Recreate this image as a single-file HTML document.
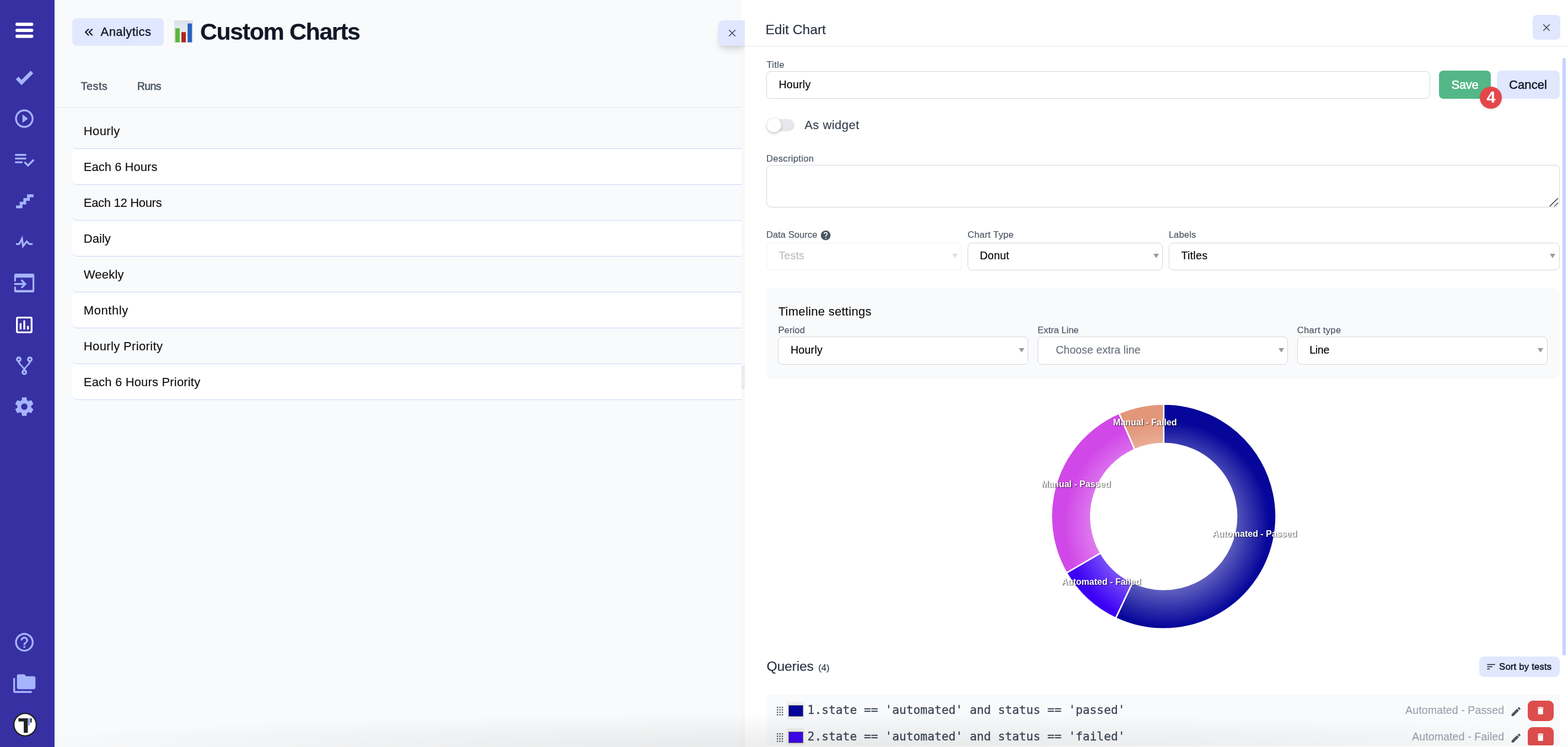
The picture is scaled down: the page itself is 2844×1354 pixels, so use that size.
<!DOCTYPE html>
<html lang="en"><head><meta charset="utf-8"><title>Custom Charts - Analytics</title>
<style>
*{box-sizing:border-box;margin:0;padding:0}
html,body{width:2844px;height:1354px;overflow:hidden;background:#f9fafb}
body{position:relative;font-family:'Liberation Sans',sans-serif;color:#111827}
.abs,.t,.ic,nav,main,aside,header,section,form,ul,li,a,button,label,h1,h2,h3,figure{position:absolute}
.t{white-space:nowrap;display:block;-webkit-text-stroke:.18px currentColor}
h1,h2,h3{font-weight:400;font-size:inherit}
button{border:0;background:none;font:inherit;color:inherit;text-align:left}
a{text-decoration:none;color:inherit}
ul{list-style:none}
.ic{display:block;overflow:visible}
nav{background:#3730a3}
main{background:#f9fafb;overflow:hidden}
.tabs{border-bottom:1px solid #e5e7eb}
.row{border-bottom:1px solid #c7d2fe;border-radius:9px 0 0 9px}
.row.w{background:#fff}
aside{background:#fff}
.hd{border-bottom:1px solid #e5e7eb}
.fld{position:absolute;border:1px solid #d1d5db;border-radius:8px;background:#fff}
.fld.dis{border-color:#f0f0f1}
.btn{border-radius:8px;background:#e0e7ff}
.save{border-radius:8px;background:#53b787}
.del{border-radius:9px;background:#dd4d4c}
.card{background:#f9fafb}
.arr{position:absolute;width:0;height:0;border-left:5.2px solid transparent;border-right:5.2px solid transparent;border-top:8.6px solid #999}
.dl{font-weight:700;-webkit-text-stroke:0;text-shadow:1.3px 1.3px 1.6px rgba(0,0,0,.7)}
</style></head><body>
<nav aria-label="Main" style="left:0.00px;top:0.00px;width:99.00px;height:1354.00px;">
<svg class="ic" role="img" aria-label="Menu" style="left:27.80px;top:40.70px;width:32.5px;height:27.8px" viewBox="0 0 32.5 27.8"><rect x="0" y="0" width="32.5" height="6.1" rx="3" fill="#fff"/><rect x="0" y="10.9" width="32.5" height="6" rx="3" fill="#fff"/><rect x="0" y="21.8" width="32.5" height="6" rx="3" fill="#fff"/></svg>
<a aria-label="Tests" style="left:20.00px;top:116.20px;width:48.00px;height:48.00px;">
<svg class="ic" style="left:3.90px;top:3.90px;width:40.20px;height:40.20px;" viewBox="0 0 24 24"><path fill="#a5b4fc" d="M9,20.42L2.79,14.21L5.62,11.38L9,14.77L18.88,4.88L21.71,7.71L9,20.42Z"/></svg>
</a>
<a aria-label="Runs" style="left:20.00px;top:190.87px;width:48.00px;height:48.00px;">
<svg class="ic" style="left:3.90px;top:3.90px;width:40.20px;height:40.20px;" viewBox="0 0 24 24"><path fill="#a5b4fc" d="M12,20C7.59,20 4,16.41 4,12C4,7.59 7.59,4 12,4C16.41,4 20,7.59 20,12C20,16.41 16.41,20 12,20M12,2A10,10 0 0,0 2,12A10,10 0 0,0 12,22A10,10 0 0,0 22,12A10,10 0 0,0 12,2M10,16.5L16,12L10,7.5V16.5Z"/></svg>
</a>
<a aria-label="Plans" style="left:20.00px;top:265.54px;width:48.00px;height:48.00px;">
<svg class="ic" style="left:3.90px;top:3.90px;width:40.20px;height:40.20px;" viewBox="0 0 24 24"><path fill="#a5b4fc" d="M14,10H2V12H14V10M14,6H2V8H14V6M2,16H10V14H2V16M21.5,11.5L23,13L16,20L11.5,15.5L13,14L16,17L21.5,11.5Z"/></svg>
</a>
<a aria-label="Steps" style="left:20.00px;top:340.21px;width:48.00px;height:48.00px;">
<svg class="ic" style="left:3.90px;top:3.90px;width:40.20px;height:40.20px;" viewBox="0 0 24 24"><path fill="#a5b4fc" d="M15,5V9H11V13H7V17H3V20H10V16H14V12H18V8H22V5H15Z"/></svg>
</a>
<a aria-label="Pulse" style="left:20.00px;top:414.88px;width:48.00px;height:48.00px;">
<svg class="ic" style="left:3.90px;top:3.90px;width:40.20px;height:40.20px;" viewBox="0 0 24 24"><path fill="#a5b4fc" d="M3,13H5.79L10.1,4.79L11.28,13.75L14.5,9.66L17.83,13H21V15H17L14.67,12.67L9.92,18.73L8.94,11.31L7,15H3V13Z"/></svg>
</a>
<a aria-label="Imports" style="left:20.00px;top:489.55px;width:48.00px;height:48.00px;">
<svg class="ic" style="left:4.00px;top:3.45px;width:40px;height:40px" viewBox="0 0 40 40"><path fill="#a5b4fc" d="M5.05,2.95H34.9a3.3,3.3 0 0 1 3.3,3.3V33.67a3.3,3.3 0 0 1 -3.3,3.3H5.05a3.3,3.3 0 0 1 -3.3,-3.3V26.7H4.95V32.8H35V10.25H4.95V17.1H1.75V6.25a3.3,3.3 0 0 1 3.3,-3.3ZM1.75,20H17.8L13.5,15.75L15.9,13.3L24.3,21.7L15.9,30.1L13.5,27.65L17.8,23.4H1.75Z"/></svg>
</a>
<a aria-label="Analytics" style="left:20.00px;top:564.22px;width:48.00px;height:48.00px;">
<svg class="ic" style="left:4.00px;top:4.40px;width:40.00px;height:40.00px;" viewBox="0 0 24 24"><path fill="#fff" d="M9 17H7V10H9V17M13 17H11V7H13V17M17 17H15V13H17V17M19 19H5V5H19V19.1M19 3H5C3.9 3 3 3.9 3 5V19C3 20.1 3.9 21 5 21H19C20.1 21 21 20.1 21 19V5C21 3.9 20.1 3 19 3Z"/></svg>
</a>
<a aria-label="Branches" style="left:20.00px;top:638.89px;width:48.00px;height:48.00px;">
<svg class="ic" style="left:3.90px;top:3.90px;width:40.20px;height:40.20px;" viewBox="0 0 24 24"><path fill="#a5b4fc" d="M6,2A3,3 0 0,1 9,5C9,6.28 8.19,7.38 7.06,7.81C7.15,8.27 7.39,8.83 8,9.63C9,10.92 11,12.83 12,14.17C13,12.83 15,10.92 16,9.63C16.61,8.83 16.85,8.27 16.94,7.81C15.81,7.38 15,6.28 15,5A3,3 0 0,1 18,2A3,3 0 0,1 21,5C21,6.32 20.14,7.45 18.95,7.85C18.87,8.37 18.64,9 18,9.83C17,11.17 15,13.08 14,14.38C13.39,15.17 13.15,15.73 13.06,16.19C14.19,16.62 15,17.72 15,19A3,3 0 0,1 12,22A3,3 0 0,1 9,19C9,17.72 9.81,16.62 10.94,16.19C10.85,15.73 10.61,15.17 10,14.38C9,13.08 7,11.17 6,9.83C5.36,9 5.13,8.37 5.05,7.85C3.86,7.45 3,6.32 3,5A3,3 0 0,1 6,2M6,4A1,1 0 0,0 5,5A1,1 0 0,0 6,6A1,1 0 0,0 7,5A1,1 0 0,0 6,4M18,4A1,1 0 0,0 17,5A1,1 0 0,0 18,6A1,1 0 0,0 19,5A1,1 0 0,0 18,4M12,18A1,1 0 0,0 11,19A1,1 0 0,0 12,20A1,1 0 0,0 13,19A1,1 0 0,0 12,18Z"/></svg>
</a>
<a aria-label="Settings" style="left:20.00px;top:713.56px;width:48.00px;height:48.00px;">
<svg class="ic" style="left:3.90px;top:3.90px;width:40.20px;height:40.20px;" viewBox="0 0 24 24"><path fill="#a5b4fc" d="M12,15.5A3.5,3.5 0 0,1 8.5,12A3.5,3.5 0 0,1 12,8.5A3.5,3.5 0 0,1 15.5,12A3.5,3.5 0 0,1 12,15.5M19.43,12.97C19.47,12.65 19.5,12.33 19.5,12C19.5,11.67 19.47,11.34 19.43,11L21.54,9.37C21.73,9.22 21.78,8.95 21.66,8.73L19.66,5.27C19.54,5.05 19.27,4.96 19.05,5.05L16.56,6.05C16.04,5.66 15.5,5.32 14.87,5.07L14.5,2.42C14.46,2.18 14.25,2 14,2H10C9.75,2 9.54,2.18 9.5,2.42L9.13,5.07C8.5,5.32 7.96,5.66 7.44,6.05L4.95,5.05C4.73,4.96 4.46,5.05 4.34,5.27L2.34,8.73C2.21,8.95 2.27,9.22 2.46,9.37L4.57,11C4.53,11.34 4.5,11.67 4.5,12C4.5,12.33 4.53,12.65 4.57,12.97L2.46,14.63C2.27,14.78 2.21,15.05 2.34,15.27L4.34,18.73C4.46,18.95 4.73,19.03 4.95,18.95L7.44,17.94C7.96,18.34 8.5,18.68 9.13,18.93L9.5,21.58C9.54,21.82 9.75,22 10,22H14C14.25,22 14.46,21.82 14.5,21.58L14.87,18.93C15.5,18.67 16.04,18.34 16.56,17.94L19.05,18.95C19.27,19.03 19.54,18.95 19.66,18.73L21.66,15.27C21.78,15.05 21.73,14.78 21.54,14.63L19.43,12.97Z"/></svg>
</a>
<a aria-label="Help" style="left:20.00px;top:1140.00px;width:48.00px;height:48.00px;">
<svg class="ic" style="left:3.70px;top:3.90px;width:40.40px;height:40.40px;" viewBox="0 0 24 24"><path fill="#a5b4fc" d="M11,18H13V16H11V18M12,2A10,10 0 0,0 2,12A10,10 0 0,0 12,22A10,10 0 0,0 22,12A10,10 0 0,0 12,2M12,20C7.59,20 4,16.41 4,12C4,7.59 7.59,4 12,4C16.41,4 20,7.59 20,12C20,16.41 16.41,20 12,20M12,6A4,4 0 0,0 8,10H10A2,2 0 0,1 12,8A2,2 0 0,1 14,10C14,12 11,11.75 11,15H13C13,12.75 16,12.5 16,10A4,4 0 0,0 12,6Z"/></svg>
</a>
<a aria-label="Projects" style="left:20.00px;top:1215.00px;width:48.00px;height:48.00px;">
<svg class="ic" style="left:3.90px;top:3.85px;width:40.30px;height:40.30px;" viewBox="0 0 24 24"><path fill="#a5b4fc" d="M22,4H14L12,2H6A2,2 0 0,0 4,4V16A2,2 0 0,0 6,18H22A2,2 0 0,0 24,16V6A2,2 0 0,0 22,4M2,6H0V11H0V20A2,2 0 0,0 2,22H20V20H2V6Z"/></svg>
</a>
<svg class="ic" role="img" aria-label="Logo" style="left:22.00px;top:1290.00px;width:47px;height:47px" viewBox="22 1290 47 47"><circle cx="45.5" cy="1313.5" r="20.4" fill="#fff" stroke="#1f1f1f" stroke-width="2.4"/><path fill="#222" d="M33.4 1301.9H50.5V1328.3H43.1V1307.8H33.4Z"/><rect x="51.3" y="1301.9" width="2.5" height="12.8" fill="#6b8cff"/><rect x="54.8" y="1301.9" width="2.7" height="7.7" fill="#222"/></svg>
</nav>
<main style="left:99.00px;top:0.00px;width:1246.00px;height:1354.00px;">
<header style="left:0.00px;top:0.00px;width:1246.00px;height:110.00px;">
<a class="btn" style="left:32.00px;top:33.00px;width:166.00px;height:50.00px;">
<svg class="ic" style="left:17.20px;top:11.90px;width:26.67px;height:26.67px;" viewBox="0 0 24 24"><path fill="#111827" d="M18.41,7.41L17,6L11,12L17,18L18.41,16.59L13.83,12L18.41,7.41M12.41,7.41L11,6L5,12L11,18L12.41,16.59L7.83,12L12.41,7.41Z"/></svg>
<span class="t" style="left:51.60px;top:13.90px;font-size:22.0px;line-height:22.0px;color:#111827;letter-spacing:0.412px;-webkit-text-stroke:.4px currentColor;">Analytics</span>
</a>
<svg class="ic" role="img" aria-label="bar chart" style="left:217.00px;top:37.00px;width:34px;height:40px" viewBox="0 0 34 40"><defs><linearGradient id="eg" x1="0" y1="0" x2="0" y2="1"><stop offset="0" stop-color="#dbe2ec"/><stop offset="0.55" stop-color="#e6e9ee"/><stop offset="1" stop-color="#eef0f3"/></linearGradient></defs><rect x="0.35" y="0.85" width="33.3" height="38.8" fill="url(#eg)" stroke="#cdd2da" stroke-width="0.7"/><rect x="2" y="14.3" width="8" height="25.4" fill="#58b93b"/><rect x="13.1" y="21.2" width="7.9" height="18.5" fill="#b0251a"/><rect x="24.3" y="5.6" width="7.8" height="34.1" fill="#2860c0"/></svg>
<h1 class="t" style="left:263.90px;top:36.20px;font-size:43.0px;line-height:43.0px;color:#111827;letter-spacing:-1.425px;font-weight:700;">Custom Charts</h1>
</header>
<div class="abs tabs" role="tablist" style="left:0.00px;top:110.00px;width:1246.00px;height:85.00px;">
<a class="t" style="left:47.70px;top:37.20px;font-size:19.6px;line-height:19.6px;color:#4b5563;letter-spacing:0.600px;-webkit-text-stroke:.55px currentColor;">Tests</a>
<a class="t" style="left:149.70px;top:37.20px;font-size:19.6px;line-height:19.6px;color:#4b5563;letter-spacing:-0.600px;-webkit-text-stroke:.55px currentColor;">Runs</a>
</div>
<ul style="left:0.00px;top:0.00px;width:1246.00px;height:800.00px;">
<li class="row" style="left:32.00px;top:205.00px;width:1214.00px;height:65.00px;">
<span class="t" style="left:20.80px;top:21.90px;font-size:22.0px;line-height:22.0px;color:#111111;letter-spacing:0.380px;">Hourly</span>
</li>
<li class="row w" style="left:32.00px;top:270.00px;width:1214.00px;height:65.00px;">
<span class="t" style="left:20.80px;top:21.90px;font-size:22.0px;line-height:22.0px;color:#111111;letter-spacing:0.027px;">Each 6 Hours</span>
</li>
<li class="row" style="left:32.00px;top:335.00px;width:1214.00px;height:65.00px;">
<span class="t" style="left:20.80px;top:21.90px;font-size:22.0px;line-height:22.0px;color:#111111;letter-spacing:-0.308px;">Each 12 Hours</span>
</li>
<li class="row w" style="left:32.00px;top:400.00px;width:1214.00px;height:65.00px;">
<span class="t" style="left:20.80px;top:21.90px;font-size:22.0px;line-height:22.0px;color:#111111;letter-spacing:0.025px;">Daily</span>
</li>
<li class="row" style="left:32.00px;top:465.00px;width:1214.00px;height:65.00px;">
<span class="t" style="left:20.80px;top:21.90px;font-size:22.0px;line-height:22.0px;color:#111111;letter-spacing:0.200px;">Weekly</span>
</li>
<li class="row w" style="left:32.00px;top:530.00px;width:1214.00px;height:65.00px;">
<span class="t" style="left:20.80px;top:21.90px;font-size:22.0px;line-height:22.0px;color:#111111;letter-spacing:0.583px;">Monthly</span>
</li>
<li class="row" style="left:32.00px;top:595.00px;width:1214.00px;height:65.00px;">
<span class="t" style="left:20.80px;top:21.90px;font-size:22.0px;line-height:22.0px;color:#111111;letter-spacing:0.364px;">Hourly Priority</span>
</li>
<li class="row w" style="left:32.00px;top:660.00px;width:1214.00px;height:65.00px;">
<span class="t" style="left:20.80px;top:21.90px;font-size:22.0px;line-height:22.0px;color:#111111;letter-spacing:0.175px;">Each 6 Hours Priority</span>
</li>
</ul>
</main>
<div class="abs" style="left:99.00px;top:0.00px;width:1.00px;height:1354.00px;background:#fff"></div>
<div class="abs" style="left:1345.00px;top:0.00px;width:6.00px;height:84.00px;background:#fff"></div>
<div class="abs" style="left:1345.00px;top:84.00px;width:6.00px;height:1270.00px;background:#f8f8f9">
<div class="abs" style="left:0.00px;top:579.00px;width:6.00px;height:42.00px;border-radius:3px;background:#e5e7eb">
<i class="abs" style="left:1.30px;top:5.00px;width:1.00px;height:32.00px;background:#f6f6f8"></i>
<i class="abs" style="left:3.90px;top:5.00px;width:1.00px;height:32.00px;background:#f6f6f8"></i>
</div>
</div>
<aside style="left:1351.00px;top:0.00px;width:1493.00px;height:1354.00px;">
<header class="hd" style="left:-6.00px;top:0.00px;width:1499.00px;height:84.30px;">
<button aria-label="Close" style="left:-41.70px;top:37.20px;width:47.70px;height:45.80px;background:#e0e7ff;border-radius:9px 0 0 9px;box-shadow:0 9px 13px -3px rgba(0,0,0,.14),0 3px 6px -2px rgba(0,0,0,.08);clip-path:inset(-30px 0 -30px -30px)">
<svg class="ic" style="left:16.40px;top:14.75px;width:16px;height:16px" viewBox="-8 -8 16 16"><path d="M-5.75 -5.75L5.75 5.75M5.75 -5.75L-5.75 5.75" stroke="#3f4957" stroke-width="1.75" fill="none"/></svg>
</button>
<h2 class="t" style="left:43.40px;top:42.00px;font-size:24.7px;line-height:24.7px;color:#2a3342;letter-spacing:-0.022px;">Edit Chart</h2>
<button class="btn" aria-label="Close panel" style="left:1435.00px;top:27.00px;width:50.00px;height:45.00px;">
<svg class="ic" style="left:17.00px;top:14.90px;width:16px;height:16px" viewBox="-8 -8 16 16"><path d="M-5.75 -5.75L5.75 5.75M5.75 -5.75L-5.75 5.75" stroke="#3f4957" stroke-width="1.75" fill="none"/></svg>
</button>
</header>
<div class="abs" style="left:1483.20px;top:105.00px;width:5.80px;height:1082.60px;border-radius:3px;background:#c7d2fe"></div>
<form style="left:0.00px;top:86.00px;width:1493.00px;height:1265.00px;overflow:hidden">
<label class="t" style="left:39.40px;top:23.70px;font-size:16.6px;line-height:16.6px;color:#4b5563;letter-spacing:0.350px;">Title</label>
<div class="fld" role="textbox" style="left:39.40px;top:43.20px;width:1203.60px;height:49.60px;">
<span class="t" style="left:21.00px;top:13.70px;font-size:19.6px;line-height:19.6px;color:#000;letter-spacing:0.240px;">Hourly</span>
</div>
<button class="save" style="left:1259.00px;top:42.00px;width:94.00px;height:51.00px;">
<span class="t" style="left:22.60px;top:15.20px;font-size:22.0px;line-height:22.0px;color:#fff;letter-spacing:-0.367px;-webkit-text-stroke:.55px currentColor;">Save</span>
</button>
<button class="btn" style="left:1364.00px;top:42.00px;width:114.00px;height:51.00px;">
<span class="t" style="left:22.00px;top:15.20px;font-size:22.0px;line-height:22.0px;color:#111827;letter-spacing:0.100px;-webkit-text-stroke:.55px currentColor;">Cancel</span>
</button>
<div class="abs" style="left:1333.30px;top:71.00px;width:40.00px;height:40.00px;border-radius:50%;background:#e5464a;box-shadow:0 2px 5px rgba(0,0,0,.13)">
<span class="t" style="left:12.10px;top:5.10px;font-size:28.7px;line-height:28.7px;color:#fff;font-weight:700;">4</span>
</div>
<div class="abs" role="switch" aria-checked="false" style="left:41.00px;top:130.20px;width:48.80px;height:21.50px;border-radius:11px;background:#e5e7eb">
<i class="abs" style="left:-1.50px;top:-2.00px;width:26.00px;height:26.00px;border-radius:50%;background:#fff;box-shadow:0 2px 5px rgba(0,0,0,.22),0 0 1px rgba(0,0,0,.2)"></i>
</div>
<label class="t" style="left:108.20px;top:129.80px;font-size:22.0px;line-height:22.0px;color:#374151;letter-spacing:0.475px;">As widget</label>
<label class="t" style="left:38.90px;top:194.00px;font-size:16.6px;line-height:16.6px;color:#4b5563;letter-spacing:0.310px;">Description</label>
<div class="fld" role="textbox" aria-multiline="true" style="left:39.40px;top:213.20px;width:1438.60px;height:76.40px;">
<svg class="ic" style="left:1417.60px;top:56.80px;width:19px;height:18px" viewBox="0 0 19 18"><path d="M2.2 16.6L16.6 2.6M10.6 16.8L16.6 10.8" stroke="#444" stroke-width="1.5" fill="none" stroke-linecap="round"/></svg>
</div>
<label class="t" style="left:38.90px;top:331.90px;font-size:16.6px;line-height:16.6px;color:#4b5563;letter-spacing:0.030px;">Data Source</label>
<svg class="ic" style="left:136.10px;top:330.05px;width:21.20px;height:21.20px;" viewBox="0 0 24 24"><path fill="#4b5563" d="M15.07,11.25L14.17,12.17C13.45,12.89 13,13.5 13,15H11V14.5C11,13.39 11.45,12.39 12.17,11.67L13.41,10.41C13.78,10.05 14,9.55 14,9C14,7.89 13.1,7 12,7A2,2 0 0,0 10,9H8A4,4 0 0,1 12,5A4,4 0 0,1 16,9C16,9.88 15.64,10.67 15.07,11.25M13,19H11V17H13M12,2A10,10 0 0,0 2,12A10,10 0 0,0 12,22A10,10 0 0,0 22,12C22,6.47 17.5,2 12,2Z"/></svg>
<label class="t" style="left:404.00px;top:331.90px;font-size:16.6px;line-height:16.6px;color:#4b5563;letter-spacing:0.289px;">Chart Type</label>
<label class="t" style="left:768.70px;top:331.90px;font-size:16.6px;line-height:16.6px;color:#4b5563;letter-spacing:0.160px;">Labels</label>
<div class="fld dis" role="combobox" aria-disabled="true" style="left:39.40px;top:354.20px;width:353.20px;height:49.60px;">
<span class="t" style="left:21.00px;top:12.50px;font-size:19.6px;line-height:19.6px;color:#bdbdbd;letter-spacing:0.200px;">Tests</span>
<i class="arr" style="left:335.40px;top:18.80px;border-top-color:#dedede"></i>
</div>
<div class="fld" role="combobox" style="left:404.00px;top:354.20px;width:353.70px;height:49.60px;">
<span class="t" style="left:21.30px;top:12.50px;font-size:19.6px;line-height:19.6px;color:#000;letter-spacing:0.150px;">Donut</span>
<i class="arr" style="left:335.70px;top:18.80px;"></i>
</div>
<div class="fld" role="combobox" style="left:769.20px;top:354.20px;width:708.60px;height:49.60px;">
<span class="t" style="left:21.20px;top:12.50px;font-size:19.6px;line-height:19.6px;color:#000;letter-spacing:0.300px;">Titles</span>
<i class="arr" style="left:689.80px;top:18.80px;"></i>
</div>
<section class="card" style="left:39.40px;top:435.80px;width:1438.80px;height:165.40px;border-radius:11px">
<h3 class="t" style="left:21.30px;top:32.30px;font-size:22.0px;line-height:22.0px;color:#111111;letter-spacing:0.281px;">Timeline settings</h3>
<label class="t" style="left:21.00px;top:69.20px;font-size:16.6px;line-height:16.6px;color:#4b5563;letter-spacing:0.100px;">Period</label>
<label class="t" style="left:491.70px;top:69.20px;font-size:16.6px;line-height:16.6px;color:#4b5563;letter-spacing:-0.022px;">Extra Line</label>
<label class="t" style="left:962.30px;top:69.20px;font-size:16.6px;line-height:16.6px;color:#4b5563;letter-spacing:0.322px;">Chart type</label>
<div class="fld" role="combobox" style="left:20.90px;top:88.50px;width:454.20px;height:50.30px;">
<span class="t" style="left:21.60px;top:14.00px;font-size:19.6px;line-height:19.6px;color:#000;letter-spacing:0.260px;">Hourly</span>
<i class="arr" style="left:435.90px;top:19.90px;"></i>
</div>
<div class="fld" role="combobox" style="left:491.90px;top:88.50px;width:454.20px;height:50.30px;">
<span class="t" style="left:31.70px;top:14.00px;font-size:19.6px;line-height:19.6px;color:#6b7280;letter-spacing:0.069px;">Choose extra line</span>
<i class="arr" style="left:435.90px;top:19.90px;"></i>
</div>
<div class="fld" role="combobox" style="left:962.90px;top:88.50px;width:453.50px;height:50.30px;">
<span class="t" style="left:21.00px;top:14.00px;font-size:19.6px;line-height:19.6px;color:#000;letter-spacing:-0.333px;">Line</span>
<i class="arr" style="left:435.20px;top:19.90px;"></i>
</div>
</section>
<figure aria-label="Donut chart" style="left:529.00px;top:634.00px;width:480.00px;height:432.00px;">
<svg class="ic" style="left:0.00px;top:0.00px;width:480px;height:432px" viewBox="1880 720 480 432"><defs><radialGradient id="g1" gradientUnits="userSpaceOnUse" cx="2115.7" cy="950.1" r="186.0"><stop offset="0" stop-color="rgb(255, 255, 255)"/><stop offset="1" stop-color="rgb(6, 6, 154)"/></radialGradient><radialGradient id="g2" gradientUnits="userSpaceOnUse" cx="2115.7" cy="950.1" r="186.0"><stop offset="0" stop-color="rgb(255, 255, 255)"/><stop offset="1" stop-color="rgb(60, 0, 245)"/></radialGradient><radialGradient id="g3" gradientUnits="userSpaceOnUse" cx="2115.7" cy="950.1" r="186.0"><stop offset="0" stop-color="rgb(255, 255, 255)"/><stop offset="1" stop-color="rgb(209, 72, 232)"/></radialGradient><radialGradient id="g4" gradientUnits="userSpaceOnUse" cx="2115.7" cy="950.1" r="186.0"><stop offset="0" stop-color="rgb(255, 255, 255)"/><stop offset="1" stop-color="rgb(227, 151, 122)"/></radialGradient></defs><path d="M2110.70 732.30A203.8 203.8 0 1 1 2023.60 1120.35L2054.16 1055.71A132.3 132.3 0 1 0 2110.70 803.80Z" fill="url(#g1)" stroke="#fff" stroke-width="2.67" stroke-linejoin="round"/><path d="M2023.60 1120.35A203.8 203.8 0 0 1 1934.38 1038.31L1996.24 1002.45A132.3 132.3 0 0 0 2054.16 1055.71Z" fill="url(#g2)" stroke="#fff" stroke-width="2.67" stroke-linejoin="round"/><path d="M1934.38 1038.31A203.8 203.8 0 0 1 2029.76 749.06L2058.16 814.68A132.3 132.3 0 0 0 1996.24 1002.45Z" fill="url(#g3)" stroke="#fff" stroke-width="2.67" stroke-linejoin="round"/><path d="M2029.76 749.06A203.8 203.8 0 0 1 2110.70 732.30L2110.70 803.80A132.3 132.3 0 0 0 2058.16 814.68Z" fill="url(#g4)" stroke="#fff" stroke-width="2.67" stroke-linejoin="round"/></svg>
<span class="t dl" style="left:139.10px;top:38.00px;font-size:16.0px;line-height:16.0px;color:#fff;letter-spacing:-0.014px;font-weight:700;">Manual - Failed</span>
<span class="t dl" style="left:8.60px;top:149.50px;font-size:16.0px;line-height:16.0px;color:#fff;letter-spacing:0.014px;font-weight:700;">Manual - Passed</span>
<span class="t dl" style="left:318.50px;top:240.40px;font-size:16.0px;line-height:16.0px;color:#fff;letter-spacing:-0.018px;font-weight:700;">Automated - Passed</span>
<span class="t dl" style="left:45.10px;top:326.70px;font-size:16.0px;line-height:16.0px;color:#fff;letter-spacing:0.006px;font-weight:700;">Automated - Failed</span>
</figure>
<h3 class="t" style="left:39.40px;top:1109.70px;font-size:24.7px;line-height:24.7px;color:#2a3342;letter-spacing:-0.150px;">Queries</h3>
<span class="t" style="left:133.20px;top:1117.00px;font-size:16.6px;line-height:16.6px;color:#2a3342;letter-spacing:0.050px;">(4)</span>
<button class="btn" style="left:1332.00px;top:1104.20px;width:146.00px;height:36.40px;border-radius:9px">
<svg class="ic" style="left:11.60px;top:8.90px;width:19.00px;height:19.00px;" viewBox="0 0 24 24"><path fill="#111827" d="M3,13H15V11H3M3,6V8H21V6M3,18H9V16H3V18Z"/></svg>
<span class="t" style="left:36.10px;top:10.80px;font-size:16.6px;line-height:16.6px;color:#111827;letter-spacing:0.233px;-webkit-text-stroke:.55px currentColor;">Sort by tests</span>
</button>
<ul class="card" style="left:39.30px;top:1173.20px;width:1438.70px;height:110.00px;border-radius:4px 3px 0 0">
<li style="left:0.00px;top:5.30px;width:1438.70px;height:48.00px;">
<svg class="ic" fill="#4b5563" style="left:18.45px;top:16.95px;width:11.2px;height:15.8px" viewBox="0 0 11.2 15.8"><rect x="0.00" y="0.00" width="2.3" height="2.3"/><rect x="0.00" y="4.50" width="2.3" height="2.3"/><rect x="0.00" y="9.00" width="2.3" height="2.3"/><rect x="0.00" y="13.50" width="2.3" height="2.3"/><rect x="4.45" y="0.00" width="2.3" height="2.3"/><rect x="4.45" y="4.50" width="2.3" height="2.3"/><rect x="4.45" y="9.00" width="2.3" height="2.3"/><rect x="4.45" y="13.50" width="2.3" height="2.3"/><rect x="8.90" y="0.00" width="2.3" height="2.3"/><rect x="8.90" y="4.50" width="2.3" height="2.3"/><rect x="8.90" y="9.00" width="2.3" height="2.3"/><rect x="8.90" y="13.50" width="2.3" height="2.3"/></svg>
<div class="abs" style="left:36.90px;top:7.80px;width:31.60px;height:31.40px;background:#efefef">
<i class="abs" style="left:2.70px;top:5.80px;width:27.20px;height:20.80px;background:#06069a;border:1.3px solid #777"></i>
</div>
<code class="t" style="left:74.30px;top:11.50px;font-size:21.33px;line-height:21.33px;color:#3c4656;font-family:'DejaVu Sans Mono','Liberation Mono',monospace;-webkit-text-stroke:.3px #3c4656;letter-spacing:-.042px;">1.state == &#x27;automated&#x27; and status == &#x27;passed&#x27;</code>
<span class="t" style="left:1158.80px;top:13.50px;font-size:19.6px;line-height:19.6px;color:#9ca3af;letter-spacing:0.088px;">Automated - Passed</span>
<svg class="ic" style="left:1348.70px;top:14.50px;width:21.60px;height:21.60px;" viewBox="0 0 24 24"><path fill="#4b5563" d="M20.71,7.04C21.1,6.65 21.1,6 20.71,5.63L18.37,3.29C18,2.9 17.35,2.9 16.96,3.29L15.12,5.12L18.87,8.87M3,17.25V21H6.75L17.81,9.93L14.06,6.18L3,17.25Z"/></svg>
<button class="del" aria-label="Delete" style="left:1380.70px;top:5.70px;width:47.00px;height:36.80px;">
<svg class="ic" style="left:14.10px;top:8.70px;width:18.40px;height:18.40px;" viewBox="0 0 24 24"><path fill="#fff" d="M19,4H15.5L14.5,3H9.5L8.5,4H5V6H19M6,19A2,2 0 0,0 8,21H16A2,2 0 0,0 18,19V7H6V19Z"/></svg>
</button>
</li>
<li style="left:0.00px;top:53.30px;width:1438.70px;height:48.00px;">
<svg class="ic" fill="#4b5563" style="left:18.45px;top:16.95px;width:11.2px;height:15.8px" viewBox="0 0 11.2 15.8"><rect x="0.00" y="0.00" width="2.3" height="2.3"/><rect x="0.00" y="4.50" width="2.3" height="2.3"/><rect x="0.00" y="9.00" width="2.3" height="2.3"/><rect x="0.00" y="13.50" width="2.3" height="2.3"/><rect x="4.45" y="0.00" width="2.3" height="2.3"/><rect x="4.45" y="4.50" width="2.3" height="2.3"/><rect x="4.45" y="9.00" width="2.3" height="2.3"/><rect x="4.45" y="13.50" width="2.3" height="2.3"/><rect x="8.90" y="0.00" width="2.3" height="2.3"/><rect x="8.90" y="4.50" width="2.3" height="2.3"/><rect x="8.90" y="9.00" width="2.3" height="2.3"/><rect x="8.90" y="13.50" width="2.3" height="2.3"/></svg>
<div class="abs" style="left:36.90px;top:7.80px;width:31.60px;height:31.40px;background:#efefef">
<i class="abs" style="left:2.70px;top:5.80px;width:27.20px;height:20.80px;background:#3d05ee;border:1.3px solid #777"></i>
</div>
<code class="t" style="left:74.30px;top:11.50px;font-size:21.33px;line-height:21.33px;color:#3c4656;font-family:'DejaVu Sans Mono','Liberation Mono',monospace;-webkit-text-stroke:.3px #3c4656;letter-spacing:-.042px;">2.state == &#x27;automated&#x27; and status == &#x27;failed&#x27;</code>
<span class="t" style="left:1170.70px;top:13.50px;font-size:19.6px;line-height:19.6px;color:#9ca3af;letter-spacing:0.094px;">Automated - Failed</span>
<svg class="ic" style="left:1348.70px;top:14.50px;width:21.60px;height:21.60px;" viewBox="0 0 24 24"><path fill="#4b5563" d="M20.71,7.04C21.1,6.65 21.1,6 20.71,5.63L18.37,3.29C18,2.9 17.35,2.9 16.96,3.29L15.12,5.12L18.87,8.87M3,17.25V21H6.75L17.81,9.93L14.06,6.18L3,17.25Z"/></svg>
<button class="del" aria-label="Delete" style="left:1380.70px;top:5.70px;width:47.00px;height:36.80px;">
<svg class="ic" style="left:14.10px;top:8.70px;width:18.40px;height:18.40px;" viewBox="0 0 24 24"><path fill="#fff" d="M19,4H15.5L14.5,3H9.5L8.5,4H5V6H19M6,19A2,2 0 0,0 8,21H16A2,2 0 0,0 18,19V7H6V19Z"/></svg>
</button>
</li>
</ul>
</form>
</aside>
<div class="abs" style="left:99.00px;top:1294.00px;width:2745.00px;height:60.00px;background:radial-gradient(ellipse 1600px 62px at 52% 100%,rgba(0,0,0,.075),rgba(0,0,0,.035) 55%,rgba(0,0,0,0) 100%);pointer-events:none"></div>
</body></html>
